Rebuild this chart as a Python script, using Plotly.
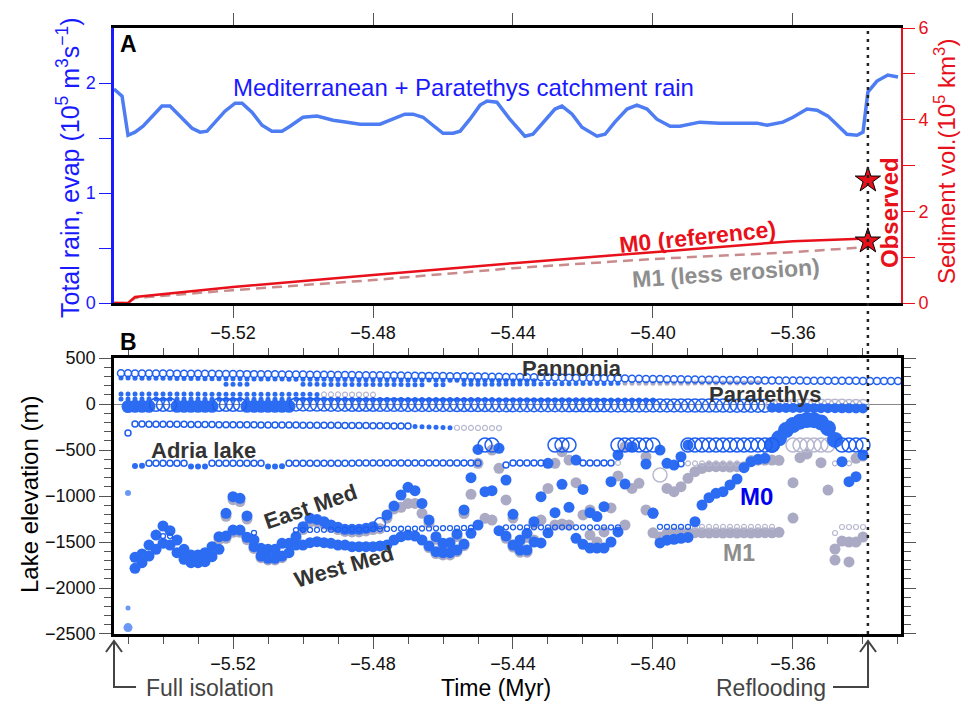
import plotly.graph_objects as go

# ---------------- Panel A data ----------------
RAIN_T = [-5.5540, -5.5517, -5.5500, -5.5480, -5.5457, -5.5431, -5.5403, -5.5380, -5.5351, -5.5317,
          -5.5294, -5.5274, -5.5251, -5.5223, -5.5194, -5.5174, -5.5146, -5.5117, -5.5089, -5.5060,
          -5.5037, -5.5000, -5.4960, -5.4914, -5.4874, -5.4837, -5.4780, -5.4751, -5.4709, -5.4686,
          -5.4657, -5.4629, -5.4600, -5.4571, -5.4551, -5.4523, -5.4494, -5.4474, -5.4446, -5.4409,
          -5.4366, -5.4343, -5.4309, -5.4280, -5.4260, -5.4231, -5.4203, -5.4160, -5.4137, -5.4109,
          -5.4074, -5.4046, -5.4017, -5.3989, -5.3951, -5.3923, -5.3866, -5.3809, -5.3703, -5.3674,
          -5.3629, -5.3600, -5.3560, -5.3531, -5.3500, -5.3446, -5.3417, -5.3400, -5.3386, -5.3360,
          -5.3329, -5.3300]
RAIN_V = [1.945, 1.881, 1.525, 1.553, 1.607, 1.699, 1.790, 1.790, 1.699, 1.589,
          1.553, 1.562, 1.644, 1.744, 1.817, 1.817, 1.735, 1.616, 1.562, 1.562,
          1.607, 1.689, 1.699, 1.662, 1.644, 1.626, 1.626, 1.662, 1.717, 1.717,
          1.689, 1.616, 1.543, 1.543, 1.562, 1.671, 1.799, 1.836, 1.826, 1.671,
          1.516, 1.534, 1.653, 1.763, 1.790, 1.717, 1.598, 1.516, 1.534, 1.644,
          1.763, 1.799, 1.763, 1.671, 1.607, 1.607, 1.644, 1.635, 1.635, 1.616,
          1.644, 1.689, 1.763, 1.753, 1.699, 1.534, 1.525, 1.553, 1.918, 2.018,
          2.073, 2.055]

SED_T = [-5.554, -5.550, -5.548, -5.520, -5.480, -5.440, -5.400, -5.360, -5.3386]
SED_M0 = [0, 0, 0.13, 0.35, 0.61, 0.87, 1.11, 1.35, 1.41]
SED_M1 = [0, 0, 0.11, 0.28, 0.50, 0.76, 0.96, 1.11, 1.22]
OBS_T = [-5.3386, -5.3386]
OBS_V = [2.68, 1.35]
REFLOOD_T = -5.3386

X_RANGE = [-5.554, -5.32914]
X_TICKS = [-5.52, -5.48, -5.44, -5.40, -5.36]
X_TICKTEXT = ["\u22125.52", "\u22125.48", "\u22125.44", "\u22125.40", "\u22125.36"]
YB_TICKS = [500, 0, -500, -1000, -1500, -2000, -2500]
YB_TICKTEXT = ["500", "0", "\u2212500", "\u22121000", "\u22121500", "\u22122000", "\u22122500"]

# ---------------- Panel B data (model time grid) ----------------
T0 = -5.552
DT = 0.002
N = None

PANN_OPEN = [334, 334, 333, 333, 332, 332, 331, 331, 330, 330,
             329, 329, 328, 328, 327, 327, 326, 326, 325, 325,
             324, 323, 323, 322, 321, 321, 320, 319, 319, 318,
             317, 316, 316, 315, 314, 313, 312, 312, 311, 310,
             309, 308, 307, 306, 306, 305, 304, 303, 302, 301,
             300, 299, 298, 297, 296, 295, 294, 293, 292, 291,
             290, 289, 288, 286, 285, 284, 283, 282, 281, 280,
             279, 278, 277, 276, 275, 273, 272, 271, 270, 269,
             268, 267, 266, 265, 264, 263, 262, 261, 260, 259,
             258, 258, 257, 257, 256, 256, 255, 255, 254, 254,
             253, 253, 253, 252, 252, 252, 251, 251, 250, 250, 250, 249]
PANN_DOTS = [282, 282, 281, 281, 280, 280, 279, 279, 278, 278,
             277, 277, 276, 276, 275, 275, 274, 274, 273, 273,
             272, 272, 271, 271, 270, 270, 269, 269, 268, 268,
             267, 267, 266, 266, 265, 265, 264, 264, 263, 263,
             262, 262, 261, 261, 260, 260, 259, 259, 258, 258,
             257, 257, 256, 256, 255, 255, 254, 254, 253, 253]
ROW215_START = 15
ROW215 = [216, 216, 215, 215, N, N, N, N, N, N, N,
          214, 214, 214, 213, 213, 213, 213, 212, 212, 212, 212, 211, 211, 211, 211, 210, 210, 210,
          N, 210, 209, N, N,
          214, 214, 215, 215, 216, 216, 217, 217, 218, 218, 219, 219, 220, 220, 221, 221, 222, 222,
          223, 223, 224, 224, 225]
ROW215_M1_START = 72
ROW215_M1 = [225, 225, 226, 226, 226, 226, 227, 227, 227, 227,
             228, 228, 228, 228, 229, 229, 229, 229, 230, 230]
ROW110 = [110, 110, 110, 109, 109, 109, 109, 108, 108, 108,
          108, 108, 107, 107, 107, 107, 107, 106, 106, 106,
          106, 106, 106, 105, 105, 105, 105, 105, 104]
ROW110_M1_START = 29
ROW110_M1 = [104, 104, 104, 103, 103, 103, 103, 102]
ROW55 = [55, 55, 55, 55, 55, 54, 54, 54, 54, 54,
         54, 54, 53, 53, 53, 53, 53, 53, 53, 52,
         52, 52, 52, 52, 52, 52, 51, 51, 51, 51,
         51, 51, 51, 50, 50, 50, 50, 50, 50, 50,
         49, 49, 49, 49, 49, 49, 49, 48, 48, 48,
         48, 48, 48, 48, 47, 47, 47, 47, 47, 47,
         47, 46, 46, 46, 46, 46, 46, 46, 45, 45,
         45, 45, 45, 45, 45, 44, 44]
PARA_FILL_START = 1
PARA_FILL = [-28, -25, -25, -25, N, N, N, -25, -25, -25, -25, -25, -25,
             N, N, N, N, -25, -25, -25, -25, -25, -25, -25]
PARA_OPEN_START = 5
PARA_OPEN = [-8, -8, -8, N, N, N, N, N, N, -8, -8, -8, -8, N, N, N, N, N, N, N,
             -5, -5, -6, -6, -6, -7, -7, -7, -8, -8,
             -8, -8, -9, -9, -9, -9, -10, -10, -10, -10,
             -10, -10, -10, -11, -11, -11, -11, -11, -12, -12,
             -12, -12, -12, -12, -13, -13, -13, -13, -13, -14,
             -14, -14, -14, -14, -14, -15, -15, -15, -15, -15,
             -16, -16, -16, -16, -16, -16, -17, -17, -17, -17,
             -17, -17, -18, -18, -18, -18, -18, -18]
PARA_LATE_START = 93
PARA_LATE = [-40, -42, -42, -43, -44, -44, -45, -45, -46, -46, -47, -47, -48, -48]
PARA_M1 = [-12, -12, -12, -13, -13, -13, -13, -14, -14, -14, -14, -15, -15, -15]
ROW220_START = 2
ROW220_OPEN = [-218, -218, -219, -219, -220, -220, -221, -221, -222, -222,
               -223, -223, -224, -224, -225, -225, -226, -226, -227, -227,
               -228, -228, -229, -229, -230, -230, -231, -231, -232, -232,
               -233, -233, -234, -234, -235, -236, -237, -238, -239, -240]
ROW220_FILL_START = 42
ROW220_FILL = [-245, -248, -250, -253, -255, -257]
ROW220_M1_START = 48
ROW220_M1 = [-258, -259, -259, -260, -260, -261, -261]
ADRIA_FILL_START = 2
ADRIA_FILL = [-675, -672, N, N, N, N, N, N, -680, -680, -678,
              N, N, N, N, N, N, N, N, -680, -678, -676]
ADRIA_OPEN_START = 4
ADRIA_OPEN = [-645, -645, -645, -645, -645, -645, N, N, N,
              -645, -645, -645, -645, -645, -645, -645, -645, N, N, N,
              -645, -645, -645, -644, -644, -644, -643, -643, -643, -643,
              -642, -642, -642, -642, -641, -641, -641, -641, -640, -640,
              -640, -640, -640, -640, -640, -640, -640, -640, N, N, N,
              -662, -640, -640, -640, -640, -640, N, N, N, N, N,
              -640, -640, -640, -640, -640, N, N, N, N, N, N, N, N, N, -648]
ADRIA_M1_START = 71
ADRIA_M1 = [-640, N, N, N, N, N, N, N, N, N,
            -645, -645, -645, -645, -645, -645, -645, -645,
            N, N, N, N, N, N, N, N, N, N, N, N, N, -645, -645, -645]
BIG450_START = 52
BIG450 = [-446, -446, N, N, N, N, N, N, N, N, -446, -446, -446, N, N, N, N, N, N,
          -446, -446, -446, -446, -446, -446, N, N, N, N,
          -446, -446, -446, -446, -446, -446, -446, -446, -446, -446, -446, -446, -446,
          N, N, N, N, N, N, N, N, N, -446, -446, -446, -446]
BIG_M1_START = 77
BIG_M1 = [-772, N, N, N, N, N, N, N, N, N, N, N, N, N, N, N, N, N, N,
          -446, -446, -446, -446, -446, -446]
OPEN_MED_START = 37
OPEN_MED = [-1297]
SMALL1340_START = 6
SMALL1340 = [-1435, -1435, N, N, N, N, N, N, N, N, N, N, N, -1400, N, N, N, N, N,
             -1370, -1370, -1369, -1368, -1367, -1366, -1365, -1364, -1363, -1362,
             -1361, -1360, -1359, -1358, -1357, -1356, -1355, -1354, -1353, -1352,
             -1351, -1350, -1349, -1348, -1347, -1345, N, N, N, N,
             -1340, -1340, -1340, -1340, -1340, -1340, -1340, -1340, -1340, -1340,
             -1340, -1340, -1340, -1340, -1340, -1340, -1340, N, N, N, N, N,
             -1335, -1335, -1335, -1335, -1335]
SMALL1340_M1_START = 82
SMALL1340_M1 = [-1335, -1335, -1335, -1335, -1335, -1335, -1335, -1335, -1335, -1335, -1335, -1335,
                N, N, N, N, N, N, N, N, -1402, -1337, -1337, -1337, -1337]
MED_START = 2
EAST_M0 = [-1667, -1630, -1533, -1424, -1326, -1377, -1478, -1580, -1641, -1641,
           -1616, -1551, -1442, -1188, -1007, -1025, -1217, -1478, -1569, -1580,
           -1580, -1514, -1514, -1442, -1333, -1243, -1254, -1279, -1315, -1340,
           -1362, -1362, -1362, -1351, -1333, N, -1206, -1109, -989, -906,
           -942, -1080, -1261, -1442, -1514, -1507, -1413, -1152, -801, -493,
           -953, -942, -482, -826, -1199, -1478, -1406, -1279, -1007, -645,
           -1181, -873, -1123, -609, -928, -1181, -1224, -1116, -844, -554,
           -870, -464, N, -652, -1188, -500, -645, -663, -572, -446]
WEST_M0 = [-1786, -1725, -1652, -1580, -1514, -1533, -1616, -1688, -1725, -1725,
           -1714, -1659, -1580, -1435, -1370, -1370, -1449, -1551, -1652, -1677,
           -1677, -1652, -1616, -1533, -1533, -1507, -1496, -1507, -1514, -1533,
           -1533, -1551, -1551, -1551, -1551, -1543, -1533, -1478, -1442, -1424,
           -1435, -1478, -1543, -1605, -1616, -1616, -1587, -1522, -1406, -1315,
           N, N, -1377, -1435, -1533, -1587, -1587, -1500, -1510, -1400,
           N, N, N, -1460, -1525, -1565, -1565, -1565, -1500, -1390,
           N, N, N, N, -1185, -1510, -1480, -1470, -1460, -1450]
RISE_START = 82
RISE_M0 = [-1279, -1098, -1018, -971, -953, -880, -815, -692, -627, -601, -590]
HUMP_START = 93
HUMP_M0 = [-445, -373, -283, -228, -192, -174, -176, -200, -262, -390]
END_START = 103
END_M0 = [-627, -844, -790, -554]
EARLY_OPEN = [-315]
EARLY_FILL = [-967, -2217, -2430]
EARLY_SIZE = [6, 5, 9]
UP_M1_START = 14
UP_M1 = [-1470, -1220, -1040, -1060, -1250, N, N, N, N, N,
         N, -1470, -1365, -1280, -1285, -1305, -1340, -1365, -1385, -1390,
         -1390, -1380, -1365, -1355, -1240, -1140, -1123, -1080, -1080, -1188,
         -1290, -1470, -1540, -1535, -1440, -1190, -982, -645, -1243, -500,
         -699, -1043, -1240, -1500, -1450, -1300, -1261, -917, -645, -518,
         -609, -855, -1206, -1152, N, N, -1130, -782, -464, -917,
         -862, -572, N, N, -917, -953, -898, -808, -735, -700,
         -681, -681, -681, -685, -681, -681, -615, -610, -609, -609,
         -612, N, -855, -583, -543, N, -638, -935, N, N,
         N, -590, -565]
LOW_M1_START = 15
LOW_M1 = [-1460, -1395, -1395, -1475, -1570, -1670, -1695, -1695, -1670, N,
          N, N, N, N, N, N, N, N, N, N,
          N, N, N, N, N, N, N, N, N, -1560,
          -1625, -1640, -1640, -1605, -1540, N, N, N, -1261, N,
          -1460, -1555, -1610, -1610, -1478, N, N, -1315, -1304, -1315,
          N, N, -1424, -1500, -1390, N, N, -1315, N, N,
          -1152, -1400, -1446, -1405, -1402, -1400, -1402, -1398, -1400, -1402,
          -1400, -1402, -1400, -1402, -1400, -1402, -1400, -1398, -1400, -1395,
          N, -1240, N, N, N, N, N, -1576, -1490, -1500,
          -1500, -1446]
LOW2_M1_START = 102
LOW2_M1 = [-1696, N, -1717]

# ---------------- styling ----------------
FONT = "Liberation Sans, Arial, sans-serif"
BLUE = "#2b6cf3"
BLUE_O = "#1f5ff0"
GRAY = "#aaaac4"
GRAY_O = "#b8b8d0"
RED = "#e8101a"


def seg(start, vals):
    ts = [round(T0 + DT * (start + i), 4) for i in range(len(vals))]
    return ts, vals


fig = go.Figure()

# Panel A
fig.add_trace(go.Scatter(x=RAIN_T, y=RAIN_V, mode="lines", line=dict(color="#4d7cf3", width=3.5),
                         xaxis="x", yaxis="y", showlegend=False))
fig.add_trace(go.Scatter(x=SED_T, y=SED_M1, mode="lines",
                         line=dict(color="#c98b8b", width=2.5, dash="10px,6px"),
                         xaxis="x", yaxis="y2", showlegend=False))
fig.add_trace(go.Scatter(x=SED_T, y=SED_M0, mode="lines", line=dict(color=RED, width=2.5),
                         xaxis="x", yaxis="y2", showlegend=False))
fig.add_trace(go.Scatter(x=OBS_T, y=OBS_V, mode="markers",
                         marker=dict(symbol="star", size=19, color=RED, line=dict(color="black", width=1)),
                         xaxis="x", yaxis="y2", showlegend=False, cliponaxis=False))


def pts(start, vals, color, size, symbol="circle", lw=1.5):
    t, v = seg(start, vals)
    if "open" in symbol:
        mk = dict(symbol=symbol, size=size, color=color, line=dict(color=color, width=lw))
    else:
        mk = dict(symbol=symbol, size=size, color=color, line=dict(width=0))
    fig.add_trace(go.Scatter(x=t, y=v, mode="markers", marker=mk, xaxis="x2", yaxis="y3",
                             showlegend=False))


# M1 (gray) behind
pts(UP_M1_START, UP_M1, GRAY, 11)
pts(LOW_M1_START, LOW_M1, GRAY, 11)
pts(LOW2_M1_START, LOW2_M1, GRAY, 11)
pts(BIG_M1_START, BIG_M1, GRAY_O, 14, "circle-open")
pts(ROW215_M1_START, ROW215_M1, GRAY, 5)
pts(ROW110_M1_START, ROW110_M1, GRAY_O, 5, "circle-open", 1.2)
pts(PARA_LATE_START, PARA_M1, GRAY_O, 12, "circle-open")
pts(ROW220_M1_START, ROW220_M1, GRAY_O, 5, "circle-open", 1.2)
pts(ADRIA_M1_START, ADRIA_M1, GRAY_O, 5, "circle-open", 1.2)
pts(SMALL1340_M1_START, SMALL1340_M1, GRAY_O, 5, "circle-open", 1.2)

# M0 (blue)
pts(MED_START, WEST_M0, BLUE, 11)
pts(MED_START, EAST_M0, BLUE, 11)
pts(RISE_START, RISE_M0, BLUE, 11)
pts(HUMP_START, HUMP_M0, BLUE, 16)
pts(END_START, END_M0, BLUE, 11)
pts(OPEN_MED_START, OPEN_MED, BLUE_O, 11, "circle-open")
pts(0, PANN_DOTS, BLUE, 5)
pts(0, PANN_OPEN, BLUE_O, 7, "circle-open")
pts(ROW215_START, ROW215, BLUE, 5)
pts(0, ROW110, BLUE, 5)
pts(0, ROW55, BLUE, 5)
pts(PARA_FILL_START, PARA_FILL, BLUE, 13)
pts(PARA_OPEN_START, PARA_OPEN, BLUE_O, 13, "circle-open")
pts(PARA_LATE_START, PARA_LATE, BLUE, 10)
pts(ROW220_START, ROW220_OPEN, BLUE_O, 6, "circle-open")
pts(ROW220_FILL_START, ROW220_FILL, BLUE, 5)
pts(ADRIA_FILL_START, ADRIA_FILL, BLUE, 6)
pts(ADRIA_OPEN_START, ADRIA_OPEN, BLUE_O, 6, "circle-open")
pts(BIG450_START, BIG450, BLUE_O, 14, "circle-open")
pts(SMALL1340_START, SMALL1340, BLUE_O, 5, "circle-open", 1.3)
pts(1, EARLY_OPEN, BLUE_O, 6, "circle-open")
t1 = [round(T0 + DT, 4)] * len(EARLY_FILL)
fig.add_trace(go.Scatter(x=t1, y=EARLY_FILL, mode="markers",
                         marker=dict(size=EARLY_SIZE, color=BLUE, line=dict(width=0)),
                         xaxis="x2", yaxis="y3", showlegend=False))

# ---------------- axes ----------------
tickfont = dict(family=FONT, size=18, color="#111")
fig.update_layout(
    width=964, height=701,
    margin=dict(l=114, r=63, t=28, b=67),
    paper_bgcolor="white", plot_bgcolor="white",
    font=dict(family=FONT),
    xaxis=dict(domain=[0, 1], anchor="y", range=X_RANGE, tickmode="array", tickvals=X_TICKS,
               ticktext=X_TICKTEXT, ticks="outside", ticklen=12, tickwidth=1.2, tickcolor="#555",
               showline=True, linecolor="black", linewidth=2.5, mirror="ticks", showgrid=False,
               zeroline=False, tickfont=tickfont),
    yaxis=dict(domain=[0.5462, 1], anchor="x", range=[0, 2.5], tickmode="array", tickvals=[0, 1, 2],
               ticks="outside", ticklen=12, tickwidth=1.2, tickcolor="#1a1aff",
               minor=dict(tickvals=[0.5, 1.5], ticks="outside", ticklen=12, tickcolor="#1a1aff",
                          tickwidth=1.2, showgrid=False),
               showline=True, linecolor="#1a1aff", linewidth=2.5, showgrid=False, zeroline=False,
               tickfont=dict(family=FONT, size=18, color="#1a1aff")),
    yaxis2=dict(overlaying="y", side="right", anchor="x", range=[0, 6], tickmode="array",
                tickvals=[0, 2, 4, 6], ticks="outside", ticklen=12, tickwidth=1.2, tickcolor=RED,
                minor=dict(tickvals=[1, 3, 5], ticks="outside", ticklen=12, tickcolor=RED,
                           tickwidth=1.2, showgrid=False),
                showline=True, linecolor=RED, linewidth=2, showgrid=False, zeroline=False,
                tickfont=dict(family=FONT, size=18, color=RED)),
    xaxis2=dict(domain=[0, 1], anchor="y3", range=X_RANGE, tickmode="array", tickvals=X_TICKS,
                ticktext=X_TICKTEXT, ticks="outside", ticklen=12, tickwidth=1.2, tickcolor="#555",
                minor=dict(dtick=0.01, tick0=-5.52, ticks="outside", ticklen=7, tickcolor="#555",
                           tickwidth=1.2, showgrid=False),
                showline=True, linecolor="black", linewidth=2.5, mirror="ticks", showgrid=False,
                zeroline=False, tickfont=tickfont),
    yaxis3=dict(domain=[0, 0.4554], anchor="x2", range=[-2500, 500], tickmode="array",
                tickvals=YB_TICKS, ticktext=YB_TICKTEXT, ticks="outside", ticklen=12, tickwidth=1.2,
                tickcolor="#555",
                minor=dict(dtick=100, tick0=0, ticks="outside", ticklen=7, tickcolor="#555",
                           tickwidth=1.2, showgrid=False),
                showline=True, linecolor="black", linewidth=2.5, mirror="ticks", showgrid=False,
                zeroline=True, zerolinecolor="#888", zerolinewidth=1, tickfont=tickfont),
)

# ---------------- shapes ----------------
shapes = [
    dict(type="line", xref="x", yref="paper", x0=REFLOOD_T, x1=REFLOOD_T, y0=0, y1=1,
         line=dict(color="#222", width=2.5, dash="3px,5px")),
    # Full isolation arrow
    dict(type="path", xref="paper", yref="paper",
         path="M 0,-0.0116 L 0,-0.0875 L 0.028,-0.0875", line=dict(color="#444", width=2)),
    dict(type="path", xref="paper", yref="paper",
         path="M -0.0102,-0.0297 L 0,-0.0116 L 0.0102,-0.0297", line=dict(color="#444", width=2)),
    # Reflooding arrow
    dict(type="path", xref="paper", yref="paper",
         path="M 0.9581,-0.0116 L 0.9581,-0.0875 L 0.9136,-0.0875", line=dict(color="#444", width=2)),
    dict(type="path", xref="paper", yref="paper",
         path="M 0.9479,-0.0297 L 0.9581,-0.0116 L 0.9683,-0.0297", line=dict(color="#444", width=2)),
]
fig.update_layout(shapes=shapes)


def ann(text, x, y, size, color, bold=False, angle=0, xanchor="center"):
    t = "<b>" + text + "</b>" if bold else text
    return dict(text=t, x=x, y=y, xref="paper", yref="paper", showarrow=False,
                font=dict(family=FONT, size=size, color=color), textangle=angle,
                xanchor=xanchor, yanchor="middle")


anns = [
    ann("A", 0.0178, 0.9736, 23, "black", True),
    ann("B", 0.0178, 0.4818, 23, "black", True),
    ann("Mediterranean + Paratethys catchment rain", 0.4435, 0.901, 24, "#1a1aff"),
    ann("M0 (reference)", 0.7408, 0.6551, 23, RED, True, -6),
    ann("M1 (less erosion)", 0.7776, 0.5957, 23, "#8e8e8e", True, -4),
    ann("Observed", 0.9848, 0.6947, 24, RED, True, -90),
    ann("Sediment vol.(10<sup>5</sup> km<sup>3</sup>)", 1.0559, 0.7805, 24, RED, False, -90),
    ann("Total rain, evap (10<sup>5</sup> m<sup>3</sup>s<sup>\u22121</sup>)", -0.0584, 0.769, 25,
        "#1a1aff", False, -90),
    ann("Lake elevation (m)", -0.1067, 0.2294, 24, "black", False, -90),
    ann("Time (Myr)", 0.4854, -0.0895, 23, "black"),
    ann("Full isolation", 0.122, -0.0895, 23, "#444"),
    ann("Reflooding", 0.8348, -0.0895, 23, "#444"),
    ann("Pannonia", 0.582, 0.4373, 22, "#333", True),
    ann("Paratethys", 0.8272, 0.396, 22, "#333", True),
    ann("Adria lake", 0.1131, 0.302, 22, "#333", True),
    ann("East Med", 0.2503, 0.2112, 22, "#333", True, -19),
    ann("West Med", 0.2922, 0.1106, 22, "#333", True, -16),
    ann("M0", 0.8158, 0.2277, 24, "#0000ee", True),
    ann("M1", 0.7942, 0.1337, 23, "#8e8e8e", True),
]
fig.update_layout(annotations=anns)

fig.write_html("out.html")
